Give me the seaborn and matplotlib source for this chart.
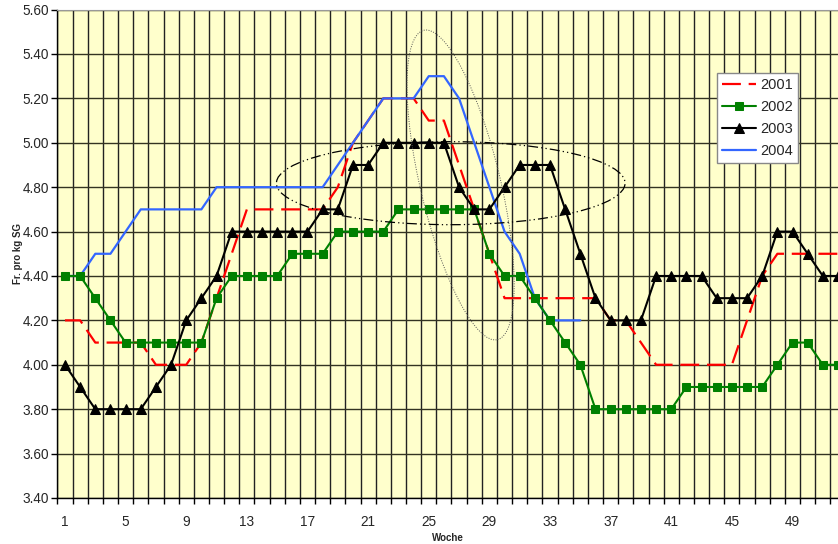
import matplotlib
matplotlib.use('Agg')
import matplotlib.pyplot as plt
from matplotlib.patches import Ellipse
from matplotlib.transforms import IdentityTransform
from matplotlib.ticker import FixedLocator, FormatStrFormatter
import numpy as np
import pandas as pd
import seaborn as sns

# --- Daten (Fr. pro kg SG je Woche) ---
wochen = list(range(1, 53))
preis_2001 = [4.20, 4.20, 4.10, 4.10, 4.10, 4.10, 4.00, 4.00, 4.00, 4.10,
              4.30, 4.50, 4.70, 4.70, 4.70, 4.70, 4.70, 4.70, 4.80, 5.00,
              5.10, 5.20, 5.20, 5.20, 5.10, 5.10, 4.90, 4.70, 4.50, 4.30,
              4.30, 4.30, 4.30, 4.30, 4.30, 4.30, 4.20, 4.20, 4.10, 4.00,
              4.00, 4.00, 4.00, 4.00, 4.00, 4.20, 4.40, 4.50, 4.50, 4.50,
              4.50, 4.50]
preis_2002 = [4.40, 4.40, 4.30, 4.20, 4.10, 4.10, 4.10, 4.10, 4.10, 4.10,
              4.30, 4.40, 4.40, 4.40, 4.40, 4.50, 4.50, 4.50, 4.60, 4.60,
              4.60, 4.60, 4.70, 4.70, 4.70, 4.70, 4.70, 4.70, 4.50, 4.40,
              4.40, 4.30, 4.20, 4.10, 4.00, 3.80, 3.80, 3.80, 3.80, 3.80,
              3.80, 3.90, 3.90, 3.90, 3.90, 3.90, 3.90, 4.00, 4.10, 4.10,
              4.00, 4.00]
preis_2003 = [4.00, 3.90, 3.80, 3.80, 3.80, 3.80, 3.90, 4.00, 4.20, 4.30,
              4.40, 4.60, 4.60, 4.60, 4.60, 4.60, 4.60, 4.70, 4.70, 4.90,
              4.90, 5.00, 5.00, 5.00, 5.00, 5.00, 4.80, 4.70, 4.70, 4.80,
              4.90, 4.90, 4.90, 4.70, 4.50, 4.30, 4.20, 4.20, 4.20, 4.40,
              4.40, 4.40, 4.40, 4.30, 4.30, 4.30, 4.40, 4.60, 4.60, 4.50,
              4.40, 4.40]
wochen_2004 = list(range(1, 36))
preis_2004 = [4.40, 4.40, 4.50, 4.50, 4.60, 4.70, 4.70, 4.70, 4.70, 4.70,
              4.80, 4.80, 4.80, 4.80, 4.80, 4.80, 4.80, 4.80, 4.90, 5.00,
              5.10, 5.20, 5.20, 5.20, 5.30, 5.30, 5.20, 5.00, 4.80, 4.60,
              4.50, 4.30, 4.20, 4.20, 4.20]

x_labels = list(range(1, 50, 4))
y_ticks = [3.40, 3.60, 3.80, 4.00, 4.20, 4.40, 4.60, 4.80, 5.00, 5.20, 5.40, 5.60]

sns.set_style('ticks')
plt.rcParams['font.family'] = ['Liberation Sans', 'DejaVu Sans']

fig = plt.figure(figsize=(8.38, 5.44), dpi=100)
ax = fig.add_axes([0.0685, 0.0846, 0.9315, 0.8978])
ax.set_facecolor('#FFFFCC')

# Linien
sns.lineplot(x=wochen, y=preis_2001, ax=ax, color='#FF0000', linewidth=1.6,
             linestyle=(0, (8.5, 3.5)), label='2001', zorder=3)
sns.lineplot(x=wochen, y=preis_2002, ax=ax, color='#008000', linewidth=1.5,
             marker='s', markersize=5.8, markeredgecolor='#008000',
             label='2002', zorder=4)
sns.lineplot(x=wochen, y=preis_2003, ax=ax, color='black', linewidth=1.5,
             marker='^', markersize=6.8, markeredgecolor='black',
             label='2003', zorder=5)
sns.lineplot(x=wochen_2004, y=preis_2004, ax=ax, color='#3366FF', linewidth=1.6,
             label='2004', zorder=3)

ax.set_xlim(0.5, 52.0)
ax.set_ylim(3.40, 5.60)

# Achsen
ax.xaxis.set_major_locator(FixedLocator(x_labels))
ax.xaxis.set_minor_locator(FixedLocator(np.arange(0.5, 52.5, 1.0)))
ax.set_yticks(y_ticks)
ax.yaxis.set_major_formatter(FormatStrFormatter('%.2f'))
ax.tick_params(axis='x', which='major', length=0, labelsize=9.8, pad=12)
ax.tick_params(axis='x', which='minor', length=4, width=1, color='black', direction='out')
ax.tick_params(axis='y', which='major', length=4, width=1, color='black',
               direction='out', labelsize=9.8, pad=2)

ax.set_axisbelow(True)
ax.grid(which='minor', axis='x', color='#222222', linewidth=1.0)
ax.grid(which='major', axis='y', color='#333322', linewidth=1.0)
ax.grid(which='major', axis='x', visible=False)

for side in ['left', 'bottom']:
    ax.spines[side].set_color('black')
    ax.spines[side].set_linewidth(1.0)
ax.spines['top'].set_color('#999999')
ax.spines['right'].set_visible(False)

ax.set_xlabel('Woche', fontsize=7, fontweight='bold', labelpad=3)
ax.set_ylabel('Fr. pro kg SG', fontsize=7, fontweight='bold', labelpad=0)

# Markierungen (Ellipsen)
ax.add_patch(Ellipse((26.45, 4.818), width=23.0, height=0.374, fill=False,
                     edgecolor='black', linewidth=0.9,
                     linestyle=(0, (8, 2.5, 1, 2.5, 1, 2.5)), zorder=6))
cx, cy = ax.transData.transform((27.1, 4.81))
ax.add_patch(Ellipse((cx, cy), width=80, height=318, angle=13.4, fill=False,
                     edgecolor='#555555', linewidth=0.7, linestyle=(0, (1, 1.5)),
                     transform=IdentityTransform(), zorder=6))

leg = ax.legend(loc='upper left', bbox_to_anchor=(0.845, 0.870), frameon=True,
                fancybox=False, edgecolor='#888888', framealpha=1, fontsize=10.5,
                handlelength=2.3, labelspacing=0.55, borderpad=0.35,
                handletextpad=0.3, borderaxespad=0)
leg.get_frame().set_linewidth(1.0)
leg.set_zorder(10)

fig.savefig('out.png', dpi=100)
plt.close(fig)
